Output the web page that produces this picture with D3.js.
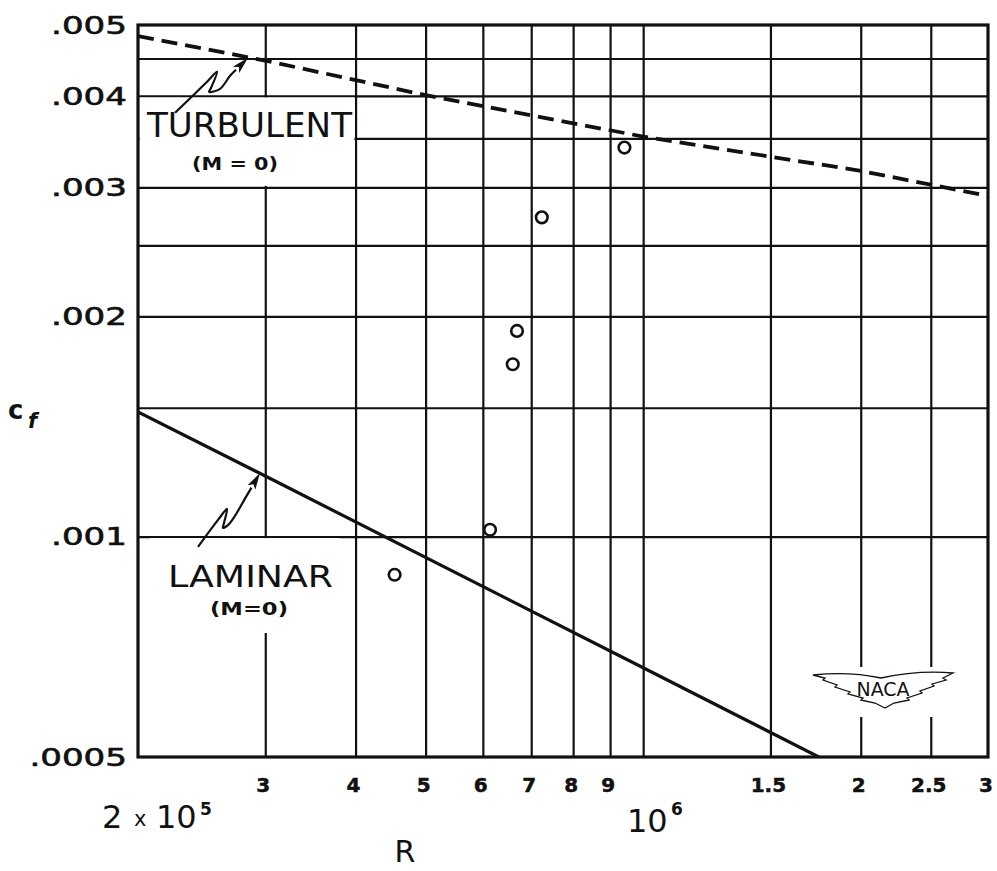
<!DOCTYPE html>
<html><head><meta charset="utf-8">
<script src="https://cdn.jsdelivr.net/npm/d3@7"></script>
<style>html,body{margin:0;padding:0;background:#fff;} svg{display:block;}</style>
</head><body><svg id="chart" width="997" height="871"></svg>
<script>
// ---- data ----
const xGridValues = [3e5,4e5,5e5,6e5,7e5,8e5,9e5,1e6,1.5e6,2e6,2.5e6];
const xTickValues = [3e5,4e5,5e5,6e5,7e5,8e5,9e5,1.5e6,2e6,2.5e6,3e6];
const xTickLabels = ["3","4","5","6","7","8","9","1.5","2","2.5","3"];
const yGridValues = [0.0045,0.004,0.0035,0.003,0.0025,0.002,0.0015,0.001];
const yTickValues = [0.005,0.004,0.003,0.002,0.001,0.0005];
const yTickLabels = [".005",".004",".003",".002",".001",".0005"];
const turbulentR  = [2e5,3e5,5e5,1e6,2e6,3e6];
const turbulentCf = [0.00483,0.00447,0.00401,0.00352,0.00316,0.00292];
const laminarR  = [2e5,3e5,1e6,1.75e6];
const laminarCf = [0.00148,0.00121,0.000662,0.0005];
const testR  = [4.53e5,6.14e5,6.60e5,6.69e5,7.24e5,9.42e5];
const testCf = [0.000887,0.001022,0.00172,0.00191,0.00273,0.00340];

// ---- layout ----
const L=138, R=988, T=25, B=757;
const svg = d3.select("#chart");
svg.append("rect").attr("width",997).attr("height",871).attr("fill","#fff");
const x = d3.scaleLog().domain([2e5,3e6]).range([L,R]);
const y = d3.scaleLog().domain([0.0005,0.005]).range([B,T]);
const ink = "#111";
const font = "'DejaVu Sans', sans-serif";

// grid via axes
const gx = svg.append("g").attr("transform",`translate(0,${B})`)
  .call(d3.axisBottom(x).tickValues(xGridValues).tickSize(-(B-T)).tickFormat(""));
const gy = svg.append("g").attr("transform",`translate(${L},0)`)
  .call(d3.axisLeft(y).tickValues(yGridValues).tickSize(-(R-L)).tickFormat(""));
[gx,gy].forEach(g=>{
  g.select(".domain").remove();
  g.selectAll(".tick line").attr("stroke",ink).attr("stroke-width",2.2);
});

// white boxes behind the labels and logo (grid interrupted there)
const masks = svg.append("g").attr("fill","#fff");
masks.append("rect").attr("x",L+1.5).attr("y",y(0.004)+1.5)
  .attr("width",x(4e5)-1.2-(L+1.5)).attr("height",y(0.003)-1.5-(y(0.004)+1.5));
masks.append("rect").attr("x",150).attr("y",y(0.001)+1.5).attr("width",190).attr("height",633-(y(0.001)+1.5));
masks.append("rect").attr("x",812).attr("y",667).attr("width",144).attr("height",50);

// frame
svg.append("rect").attr("x",L).attr("y",T).attr("width",R-L).attr("height",B-T)
  .attr("fill","none").attr("stroke",ink).attr("stroke-width",3.2);

// clip
svg.append("clipPath").attr("id","plot").append("rect")
  .attr("x",L).attr("y",T).attr("width",R-L).attr("height",B-T);

const line = d3.line().x(d=>x(d[0])).y(d=>y(d[1]));
const curves = svg.append("g").attr("clip-path","url(#plot)");
curves.append("path").datum(turbulentR.map((r,i)=>[r,turbulentCf[i]]))
  .attr("d",line).attr("fill","none").attr("stroke",ink).attr("stroke-width",3.8)
  .attr("stroke-dasharray","16,8");
curves.append("path").datum(laminarR.map((r,i)=>[r,laminarCf[i]]))
  .attr("d",line).attr("fill","none").attr("stroke",ink).attr("stroke-width",3.2);

// test points
svg.append("g").selectAll("circle").data(testR.map((r,i)=>[r,testCf[i]])).join("circle")
  .attr("cx",d=>x(d[0])).attr("cy",d=>y(d[1])).attr("r",5.8)
  .attr("fill","#fff").attr("stroke",ink).attr("stroke-width",2.6);

// annotation arrows (squiggle + arrowhead), anchored on the curves
function arrow(tipR, tipCf, pts){
  const tx = x(tipR), ty = y(tipCf);
  const p = pts.map(d=>[tx+d[0], ty+d[1]]);
  const last = p[p.length-1];
  const dx = tx-last[0], dy = ty-last[1], len = Math.hypot(dx,dy);
  const ux = dx/len, uy = dy/len;
  const hl = 17, hw = 4.5;
  const bx = tx-ux*hl, by = ty-uy*hl;
  svg.append("path").attr("d", d3.line().curve(d3.curveCatmullRom)(p.concat([[bx,by]])))
    .attr("fill","none").attr("stroke",ink).attr("stroke-width",2.2);
  svg.append("path").attr("d",`M${tx},${ty} L${bx-uy*hw},${by+ux*hw} L${bx+ux*4},${by+uy*4} L${bx+uy*hw},${by-ux*hw} Z`)
    .attr("fill",ink);
}
arrow(2.84e5, 0.00451, [[-73,55],[-41,24],[-31,14],[-37,30],[-39,34],[-28,31],[-18,18]]);
arrow(2.95e5, 0.001222, [[-62,74],[-42,47],[-33,36],[-36,50],[-37,55],[-30,50],[-14,24]]);

// y tick labels (wide lettering)
const ytl = svg.append("g").attr("font-family",font).attr("font-size",24).attr("fill",ink)
  .attr("stroke",ink).attr("stroke-width",0.6);
yTickValues.forEach((v,i)=>{
  const t = ytl.append("text").attr("x",127).attr("y",y(v)+8.8).attr("text-anchor","end").text(yTickLabels[i]);
  const w = t.node().getComputedTextLength();
  t.attr("textLength",w*1.42).attr("lengthAdjust","spacingAndGlyphs");
});

// x tick labels
const xtl = svg.append("g").attr("font-family",font).attr("font-size",20).attr("font-weight","bold").attr("fill",ink)
  .attr("stroke",ink).attr("stroke-width",0.5);
xTickValues.forEach((v,i)=>{
  xtl.append("text").attr("x",x(v)-2).attr("y",792).attr("text-anchor","middle").text(xTickLabels[i]);
});

// decade labels (one text each, superscript exponent as tspan)
const dl = svg.append("g").attr("font-family",font).attr("fill",ink);
const d5 = dl.append("text").attr("x",102).attr("y",828).attr("font-size",32);
d5.append("tspan").text("2");
d5.append("tspan").attr("x",134).attr("dy",-2).attr("font-size",21).text("x");
d5.append("tspan").attr("x",156).attr("dy",2).text("10");
d5.append("tspan").attr("x",200).attr("dy",-13).attr("font-size",17).attr("font-weight","bold").text("5");
const d6 = dl.append("text").attr("x",627).attr("y",832).attr("font-size",32);
d6.append("tspan").text("10");
d6.append("tspan").attr("x",671).attr("dy",-17).attr("font-size",17).attr("font-weight","bold").text("6");

// axis titles
dl.append("text").attr("x",405).attr("y",862).attr("text-anchor","middle").attr("font-size",30).text("R");
const cf = dl.append("text").attr("x",8).attr("y",419).attr("font-size",26).attr("font-weight","bold");
cf.append("tspan").text("c");
cf.append("tspan").attr("x",28).attr("dy",9).attr("font-size",21).attr("font-style","italic").text("f");

// curve labels
dl.append("text").attr("x",147).attr("y",137).attr("font-size",33)
  .attr("textLength",205).attr("lengthAdjust","spacingAndGlyphs").text("TURBULENT");
dl.append("text").attr("x",192).attr("y",170).attr("font-size",18).attr("font-weight","bold")
  .attr("textLength",86).attr("lengthAdjust","spacingAndGlyphs").text("(M = 0)");
dl.append("text").attr("x",168).attr("y",587).attr("font-size",30)
  .attr("textLength",165).attr("lengthAdjust","spacingAndGlyphs").text("LAMINAR");
dl.append("text").attr("x",210).attr("y",615).attr("font-size",18).attr("font-weight","bold")
  .attr("textLength",78).attr("lengthAdjust","spacingAndGlyphs").text("(M=0)");

// NACA wings logo
const logo = svg.append("g").attr("transform","translate(883,690)");
logo.append("path")
  .attr("d","M-70,-15 Q-35,-19 -2,-12 Q35,-20 70,-17 L60,-12 L63,-10 L49,-6 L51,-4 L37,1 L39,3 L24,8 L26,10 L11,13 L2,18 L-8,13 L-22,10 L-20,8 L-35,4 L-33,2 L-48,-3 L-46,-5 L-60,-10 L-58,-12 Z")
  .attr("fill","#fff").attr("stroke",ink).attr("stroke-width",1.3);
logo.append("text").attr("x",0).attr("y",6).attr("text-anchor","middle")
  .attr("font-family",font).attr("font-size",19).attr("fill",ink)
  .attr("textLength",53).attr("lengthAdjust","spacingAndGlyphs").text("NACA");
</script>
</body></html>
